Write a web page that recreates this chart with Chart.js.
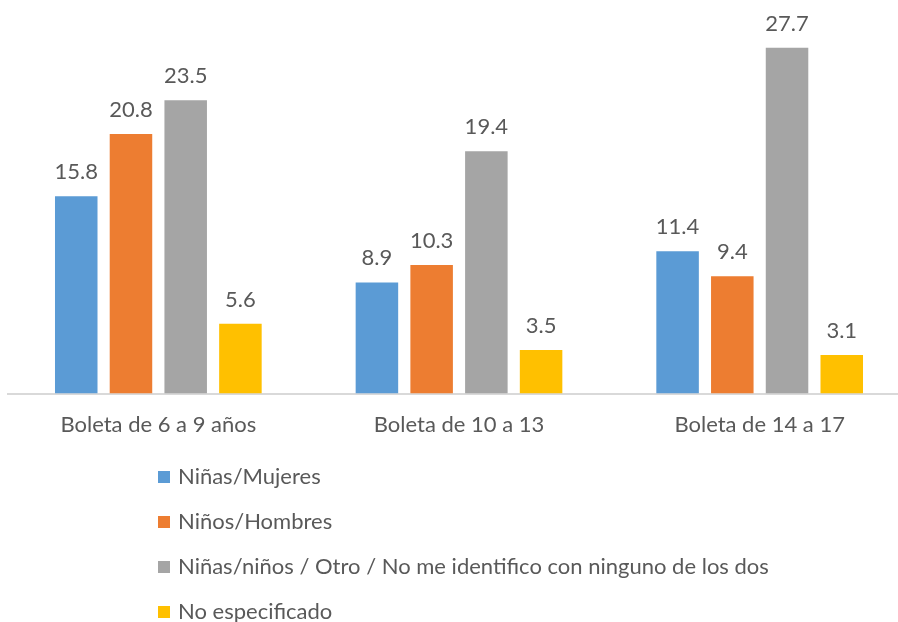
<!DOCTYPE html>
<html>
<head>
<meta charset="utf-8">
<script src="https://cdn.jsdelivr.net/npm/chart.js@4.4.1/dist/chart.umd.min.js"></script>
<style>
  html, body { margin: 0; padding: 0; background: #fff; overflow: hidden; }
  #wrap { width: 898px; height: 622px; overflow: hidden; }
</style>
</head>
<body>
<div id="wrap"><canvas id="myChart" width="912" height="622"></canvas></div>
<script>
// datos
var categorias = ['Boleta de 6 a 9 años', 'Boleta de 10 a 13', 'Boleta de 14 a 17'];
var series = ['Niñas/Mujeres', 'Niños/Hombres', 'Niñas/niños / Otro / No me identifico con ninguno de los dos', 'No especificado'];
var mujeres = [15.8, 8.9, 11.4];
var hombres = [20.8, 10.3, 9.4];
var otro = [23.5, 19.4, 27.7];
var noEspecificado = [5.6, 3.5, 3.1];
var colores = ['#5B9BD5', '#ED7D31', '#A5A5A5', '#FFC000'];

var textColor = '#595959';
var fontFam = 'Lato, "Liberation Sans", sans-serif';

// etiquetas de valor encima de cada barra
var valueLabels = {
    id: 'valueLabels',
    afterDatasetsDraw: function (chart) {
        var ctx = chart.ctx;
        ctx.save();
        ctx.fillStyle = textColor;
        ctx.font = '22px ' + fontFam;
        ctx.textAlign = 'center';
        ctx.textBaseline = 'alphabetic';
        chart.data.datasets.forEach(function (ds, i) {
            chart.getDatasetMeta(i).data.forEach(function (bar, j) {
                ctx.fillText(ds.data[j].toFixed(1), bar.x, bar.y - 17);
            });
        });
        ctx.restore();
    }
};

// leyenda vertical abajo
var vertLegend = {
    id: 'vertLegend',
    afterDraw: function (chart) {
        var ctx = chart.ctx;
        ctx.save();
        ctx.font = '22px ' + fontFam;
        ctx.textBaseline = 'middle';
        ctx.textAlign = 'left';
        chart.data.datasets.forEach(function (ds, i) {
            var y = 477 + i * 45;
            ctx.fillStyle = ds.backgroundColor;
            ctx.fillRect(158, y - 6, 12, 12);
            ctx.fillStyle = textColor;
            ctx.fillText(ds.label, 178, y);
        });
        ctx.restore();
    }
};

var ctx = document.getElementById('myChart').getContext('2d');
var chart = new Chart(ctx, {
    type: 'bar',
    data: {
        labels: categorias,
        datasets: [
            { label: series[0], backgroundColor: colores[0], data: mujeres },
            { label: series[1], backgroundColor: colores[1], data: hombres },
            { label: series[2], backgroundColor: colores[2], data: otro },
            { label: series[3], backgroundColor: colores[3], data: noEspecificado }
        ]
    },
    options: {
        responsive: false,
        animation: false,
        categoryPercentage: 0.728,
        barPercentage: 0.777,
        layout: { padding: { left: 8, right: 2, top: 19, bottom: 166 } },
        plugins: {
            legend: { display: false },
            tooltip: { enabled: false }
        },
        scales: {
            x: {
                grid: { display: false, drawTicks: false },
                border: { color: '#D9D9D9', width: 2 },
                ticks: { color: textColor, font: { family: fontFam, size: 22 }, padding: 18 }
            },
            y: {
                display: false,
                min: 0,
                max: 30
            }
        }
    },
    plugins: [valueLabels, vertLegend]
});
</script>
</body>
</html>
